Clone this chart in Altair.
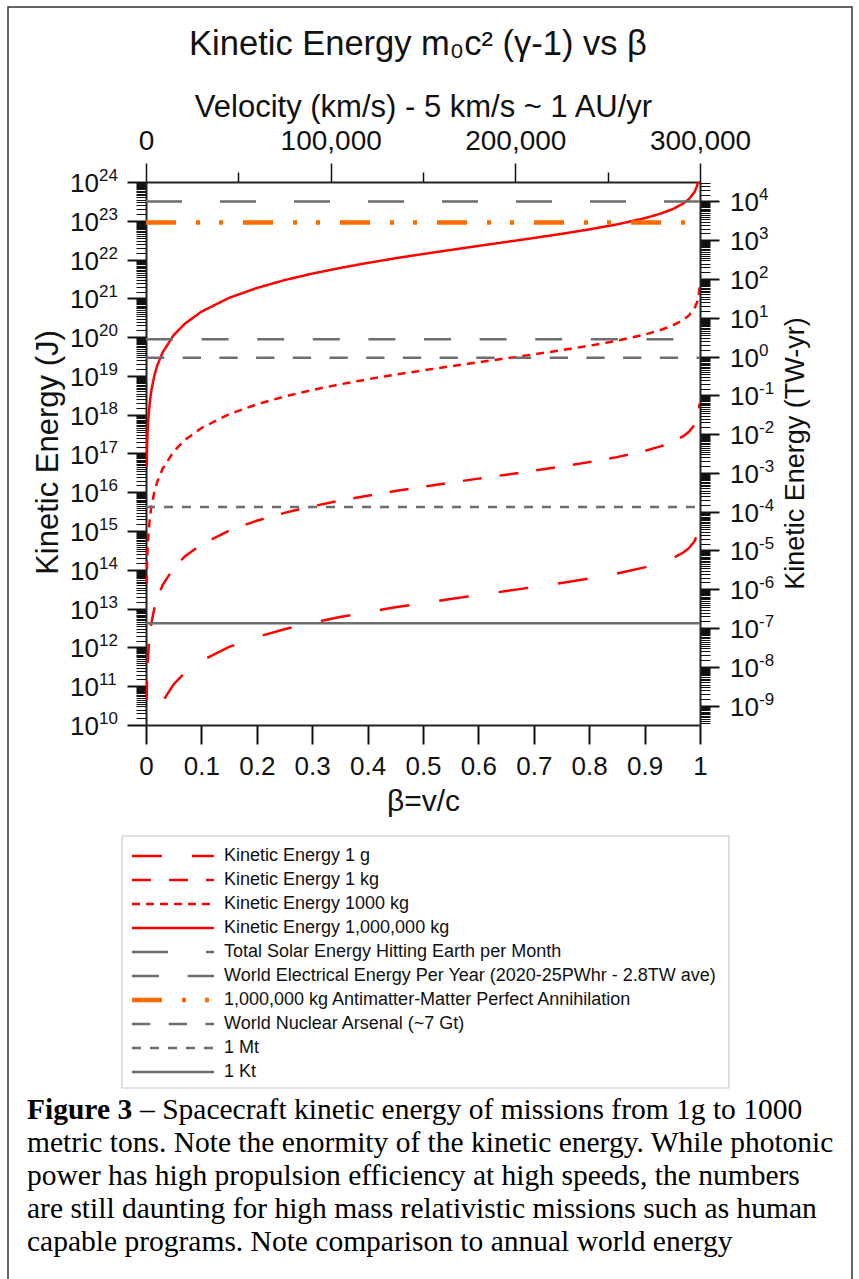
import altair as alt
import pandas as pd

# ---------------- data ----------------
beta = [0.001, 0.002, 0.003, 0.005, 0.0075, 0.01, 0.015, 0.02, 0.03, 0.05, 0.07,
        0.1, 0.15, 0.2, 0.25, 0.3, 0.35, 0.4, 0.45, 0.5, 0.55, 0.6, 0.65, 0.7,
        0.75, 0.8, 0.85, 0.9, 0.93, 0.95, 0.97, 0.98, 0.99, 0.995, 0.998, 0.999]

ke_1g = [4.49e7, 1.80e8, 4.04e8, 1.12e9, 2.53e9, 4.49e9, 1.01e10, 1.80e10, 4.05e10,
         1.125e11, 2.21e11, 4.53e11, 1.03e12, 1.85e12, 2.95e12, 4.34e12, 6.07e12,
         8.19e12, 1.08e13, 1.39e13, 1.77e13, 2.25e13, 2.84e13, 3.60e13, 4.60e13,
         5.99e13, 8.07e13, 1.16e14, 1.55e14, 1.98e14, 2.80e14, 3.62e14, 5.47e14,
         8.10e14, 1.33e15, 1.92e15]
ke_1kg = [4.49e10, 1.80e11, 4.04e11, 1.12e12, 2.53e12, 4.49e12, 1.01e13, 1.80e13, 4.05e13,
          1.125e14, 2.21e14, 4.53e14, 1.03e15, 1.85e15, 2.95e15, 4.34e15, 6.07e15,
          8.19e15, 1.08e16, 1.39e16, 1.77e16, 2.25e16, 2.84e16, 3.60e16, 4.60e16,
          5.99e16, 8.07e16, 1.16e17, 1.55e17, 1.98e17, 2.80e17, 3.62e17, 5.47e17,
          8.10e17, 1.33e18, 1.92e18]
ke_1000kg = [4.49e13, 1.80e14, 4.04e14, 1.12e15, 2.53e15, 4.49e15, 1.01e16, 1.80e16, 4.05e16,
             1.125e17, 2.21e17, 4.53e17, 1.03e18, 1.85e18, 2.95e18, 4.34e18, 6.07e18,
             8.19e18, 1.08e19, 1.39e19, 1.77e19, 2.25e19, 2.84e19, 3.60e19, 4.60e19,
             5.99e19, 8.07e19, 1.16e20, 1.55e20, 1.98e20, 2.80e20, 3.62e20, 5.47e20,
             8.10e20, 1.33e21, 1.92e21]
ke_1e6kg = [4.49e16, 1.80e17, 4.04e17, 1.12e18, 2.53e18, 4.49e18, 1.01e19, 1.80e19, 4.05e19,
            1.125e20, 2.21e20, 4.53e20, 1.03e21, 1.85e21, 2.95e21, 4.34e21, 6.07e21,
            8.19e21, 1.08e22, 1.39e22, 1.77e22, 2.25e22, 2.84e22, 3.60e22, 4.60e22,
            5.99e22, 8.07e22, 1.16e23, 1.55e23, 1.98e23, 2.80e23, 3.62e23, 5.47e23,
            8.10e23, 1.33e24, 1.92e24]

curve_names = ["Kinetic Energy 1 g", "Kinetic Energy 1 kg", "Kinetic Energy 1000 kg",
               "Kinetic Energy 1,000,000 kg"]
curve_values = [ke_1g, ke_1kg, ke_1000kg, ke_1e6kg]

ref_names = ["Total Solar Energy Hitting Earth per Month",
             "World Electrical Energy Per Year (2020-25PWhr - 2.8TW ave)",
             "1,000,000 kg Antimatter-Matter Perfect Annihilation",
             "World Nuclear Arsenal (~7 Gt)",
             "1 Mt",
             "1 Kt"]
ref_energy = [3.16e23, 8.84e19, 9.0e22, 2.93e19, 4.18e15, 4.18e12]
ref_span = [0.0, 1.0]

names = curve_names + ref_names

bottom_ticks = [0, 0.1, 0.2, 0.3, 0.4, 0.5, 0.6, 0.7, 0.8, 0.9, 1]
top_ticks = [0, 50000, 100000, 150000, 200000, 250000, 300000]
left_exps = list(range(10, 25))
right_exps = list(range(-9, 5))
minor_mult = [1.5, 2, 2.5, 3, 3.5, 4, 4.5, 5, 5.5, 6, 6.5, 7, 7.5, 8, 8.5, 9, 9.5]

J_PER_TWYR = 3.156e19
E_DOMAIN = [1e10, 1e24]
TW_DOMAIN = [E_DOMAIN[0] / J_PER_TWYR, E_DOMAIN[1] / J_PER_TWYR]
V_DOMAIN = [0, 300000]

title_text = "Kinetic Energy m\u2080c\u00b2 (\u03b3-1) vs \u03b2"
caption_bold = "Figure 3"
caption_lines = [
    "\u2013 Spacecraft kinetic energy of missions from 1g to 1000",
    "metric tons. Note the enormity of the kinetic energy. While photonic",
    "power has high propulsion efficiency at high speeds, the numbers",
    "are still daunting for high mass relativistic missions such as human",
    "capable programs. Note comparison to annual world energy",
]

# ---------------- styles ----------------
RED = "#ff0000"
GRAY = "#6e6e6e"
ORANGE = "#ff6a00"
colors = [RED, RED, RED, RED, GRAY, GRAY, ORANGE, GRAY, GRAY, GRAY]
dashes = [[30, 30], [19, 18], [8, 6], [1, 0], [36, 38], [27, 28.6],
          [30, 20, 4, 19, 4, 20], [18.3, 18.4], [9, 9], [1, 0]]
AM = ref_names[2]
FONT = "Liberation Sans"
SERIF = "Liberation Serif"
INK = "#111111"


def log_ticks(exps, lo, hi):
    vals = []
    for e in range(exps[0] - 1, exps[-1] + 1):
        vals.append(float(f"1e{e}"))
        for k in minor_mult:
            vals.append(float(f"{k}e{e}"))
    return [v for v in vals if lo * 0.9999 <= v <= hi * 1.0001]


left_values = log_ticks(left_exps, E_DOMAIN[0], E_DOMAIN[1])
right_values = log_ticks(right_exps, TW_DOMAIN[0], TW_DOMAIN[1])

MAJOR_LOG = "abs(log(datum.value)/LN10-round(log(datum.value)/LN10))<0.001"

# ---------------- tables ----------------
rows = []
for n, ys in zip(curve_names, curve_values):
    for b, e in zip(beta, ys):
        rows.append({"beta": b, "energy": e, "series": n})
for n, e in zip(ref_names, ref_energy):
    for b in ref_span:
        rows.append({"beta": b, "energy": e, "series": n})
df = pd.DataFrame(rows)

left_lab = pd.DataFrame({"energy": [float(f"1e{e}") for e in left_exps],
                         "base": ["10"] * len(left_exps),
                         "exp": [str(e) for e in left_exps]})
right_lab = pd.DataFrame({"tw": [float(f"1e{e}") for e in right_exps],
                          "base": ["10"] * len(right_exps),
                          "exp": [str(e) for e in right_exps]})
leg_df = pd.DataFrame({"series": names, "row": list(range(len(names)))})

axis_common = dict(grid=False, domainColor="#222222", domainWidth=2, tickColor=INK,
                   labelFont=FONT, titleFont=FONT, labelColor=INK, titleColor=INK,
                   titleFontWeight="normal", labelFlush=False, labelOverlap=False, labelBound=False)

color_enc = alt.Color("series:N", scale=alt.Scale(domain=names, range=colors), legend=None)
dash_enc = alt.StrokeDash("series:N", scale=alt.Scale(domain=names, range=dashes), legend=None)
width_enc = alt.condition(alt.datum.series == AM, alt.value(4.5), alt.value(2.5))

e_scale = alt.Scale(type="log", domain=E_DOMAIN, nice=False)
tw_scale = alt.Scale(type="log", domain=TW_DOMAIN, nice=False)

lines = alt.Chart(df).mark_line(clip=True, strokeCap="butt").encode(
    x=alt.X("beta:Q", scale=alt.Scale(domain=[0, 1], nice=False, zero=False),
            axis=alt.Axis(values=bottom_ticks, format="~g", tickSize=19, tickWidth=2,
                          labelFontSize=26, labelPadding=9, title="\u03b2=v/c", titleFontSize=30,
                          titleY=76, titleBaseline="middle", **axis_common)),
    y=alt.Y("energy:Q", scale=e_scale,
            axis=alt.Axis(values=left_values, labels=False,
                          tickSize={"condition": {"test": MAJOR_LOG, "value": 19}, "value": 10},
                          tickWidth={"condition": {"test": MAJOR_LOG, "value": 2}, "value": 1},
                          title="Kinetic Energy (J)", titleFontSize=31, titleX=-98, titleY=270,
                          titleAngle=-90, titleAlign="center", titleBaseline="middle", **axis_common)),
    color=color_enc,
    strokeDash=dash_enc,
    strokeWidth=width_enc,
)

aux = alt.Chart(pd.DataFrame({"v": V_DOMAIN, "tw": TW_DOMAIN})).mark_point(opacity=0).encode(
    x=alt.X("v:Q", scale=alt.Scale(domain=V_DOMAIN, nice=False, zero=False),
            axis=alt.Axis(orient="top", values=top_ticks,
                          labelExpr="datum.value % 100000 == 0 ? format(datum.value, ',') : ''",
                          tickSize={"condition": {"test": "datum.value % 100000 == 0", "value": 19}, "value": 10},
                          tickWidth=1.5, labelFontSize=28, labelPadding=8,
                          title="Velocity (km/s) - 5 km/s ~ 1 AU/yr", titleFontSize=31,
                          titleY=-75, titleBaseline="middle", **axis_common)),
    y=alt.Y("tw:Q", scale=tw_scale,
            axis=alt.Axis(orient="right", values=right_values, labels=False,
                          tickSize={"condition": {"test": MAJOR_LOG, "value": 19}, "value": 10},
                          tickWidth={"condition": {"test": MAJOR_LOG, "value": 2}, "value": 1},
                          title="Kinetic Energy (TW-yr)", titleFontSize=27, titleX=95, titleY=271,
                          titleAngle=-90, titleAlign="center", titleBaseline="middle", **axis_common)),
)

# tick labels with raised exponents
lab_left_base = alt.Chart(left_lab).mark_text(
    font=FONT, fontSize=26, align="right", baseline="middle", color=INK, dy=2
).encode(text="base:N", x=alt.value(-47), y=alt.Y("energy:Q", scale=e_scale, axis=None))
lab_left_exp = alt.Chart(left_lab).mark_text(
    font=FONT, fontSize=17, align="left", baseline="middle", color=INK, dy=-6
).encode(text="exp:N", x=alt.value(-47), y=alt.Y("energy:Q", scale=e_scale, axis=None))
lab_right_base = alt.Chart(right_lab).mark_text(
    font=FONT, fontSize=26, align="left", baseline="middle", color=INK, dy=2
).encode(text="base:N", x=alt.value(584), y=alt.Y("tw:Q", scale=tw_scale, axis=None))
lab_right_exp = alt.Chart(right_lab).mark_text(
    font=FONT, fontSize=17, align="left", baseline="middle", color=INK, dy=-6
).encode(text="exp:N", x=alt.value(613), y=alt.Y("tw:Q", scale=tw_scale, axis=None))

# legend (drawn from the same series / colour / dash scales)
leg_y = alt.Y("row:Q", scale=alt.Scale(domain=[0, len(names) - 1], range=[674, 890]), axis=None)
leg_box = alt.Chart(pd.DataFrame({"f": [0]})).mark_rect(
    filled=False, stroke="#c8c8c8", strokeWidth=1.2
).encode(x=alt.value(-24), x2=alt.value(583), y=alt.value(654), y2=alt.value(906))
leg_lines = alt.Chart(leg_df).mark_rule(strokeCap="butt").encode(
    x=alt.value(-14), x2=alt.value(68), y=leg_y,
    color=color_enc, strokeDash=dash_enc, strokeWidth=width_enc)
leg_text = alt.Chart(leg_df).mark_text(
    font=FONT, fontSize=18, align="left", baseline="middle", color=INK
).encode(text="series:N", x=alt.value(78), y=leg_y)

title_layer = alt.Chart(pd.DataFrame({"t": [title_text]})).mark_text(
    font=FONT, fontSize=34.5, align="center", baseline="middle", color=INK
).encode(text="t:N", x=alt.value(272), y=alt.value(-137))

cap_layers = [
    alt.Chart(pd.DataFrame({"t": [caption_bold]})).mark_text(
        font=SERIF, fontSize=29.5, fontWeight="bold", align="left", baseline="middle", color="#000"
    ).encode(text="t:N", x=alt.value(-119), y=alt.value(928))
]
for i, line in enumerate(caption_lines):
    x0 = -119 + (113 if i == 0 else 0)
    cap_layers.append(
        alt.Chart(pd.DataFrame({"t": [line]})).mark_text(
            font=SERIF, fontSize=29.5, align="left", baseline="middle", color="#000"
        ).encode(text="t:N", x=alt.value(x0), y=alt.value(928 + 33 * i))
    )

frame = alt.Chart(pd.DataFrame({"f": [0]})).mark_rect(
    filled=False, stroke="#333333", strokeWidth=1.5
).encode(x=alt.value(-138), x2=alt.value(706), y=alt.value(-175), y2=alt.value(1110))

chart = alt.layer(
    frame, lines, aux, lab_left_base, lab_left_exp, lab_right_base, lab_right_exp,
    leg_box, leg_lines, leg_text, title_layer, *cap_layers
).resolve_scale(
    x="independent", y="independent"
).properties(
    width=554, height=543,
    autosize=alt.AutoSizeParams(type="none"),
    padding={"left": 146, "top": 182, "right": 159, "bottom": 554},
).configure_view(stroke=None).configure(background="white")

chart.save("out.html", embed_options={"renderer": "svg", "actions": False})
